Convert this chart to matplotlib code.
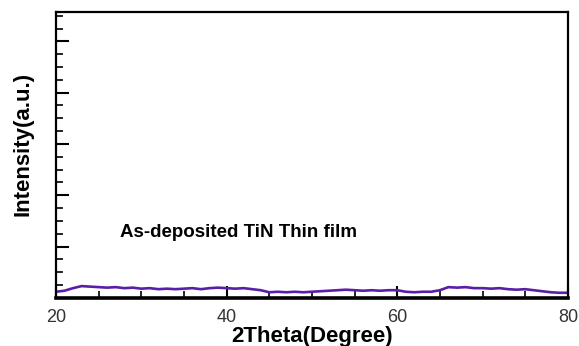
import numpy as np
import matplotlib.pyplot as plt
from matplotlib.ticker import MultipleLocator

plt.rcParams['font.family'] = ['Liberation Sans', 'DejaVu Sans']

# XRD scan of the as-deposited film
two_theta = np.arange(20, 81, 1)
intensity = [0.12, 0.14, 0.19, 0.23, 0.22, 0.21, 0.20, 0.21, 0.19, 0.20,
             0.18, 0.19, 0.17, 0.18, 0.17, 0.18, 0.19, 0.17, 0.19, 0.20,
             0.19, 0.18, 0.19, 0.17, 0.15, 0.11, 0.12, 0.11, 0.12, 0.11,
             0.12, 0.13, 0.14, 0.15, 0.16, 0.15, 0.14, 0.15, 0.14, 0.15,
             0.15, 0.12, 0.11, 0.12, 0.12, 0.15, 0.21, 0.20, 0.21, 0.19,
             0.19, 0.18, 0.19, 0.17, 0.16, 0.17, 0.15, 0.13, 0.11, 0.10,
             0.10]
x_ticks = [20, 40, 60, 80]
sample_label = 'As-deposited TiN Thin film'

fig = plt.figure(figsize=(5.79, 3.46), dpi=100)
ax = fig.add_axes([0.0967, 0.139, 0.884, 0.826])

ax.plot(two_theta, intensity, color='#5a1fa6', lw=1.9)

ax.text(27.5, 1.27, sample_label, fontsize=13.5, fontweight='bold', va='center', ha='left')

ax.set_xlim(20, 80)
ax.set_ylim(0, 5.57)
ax.set_xticks(x_ticks)
ax.xaxis.set_minor_locator(MultipleLocator(5))
ax.yaxis.set_major_locator(MultipleLocator(1))
ax.yaxis.set_minor_locator(MultipleLocator(0.25))
ax.set_yticklabels([])

ax.tick_params(axis='both', which='major', direction='in', length=9, width=1.5,
               labelsize=13, labelcolor='#333333', pad=8)
ax.tick_params(axis='both', which='minor', direction='in', length=5, width=1.2)
ax.tick_params(axis='y', which='both', right=False)
ax.tick_params(axis='x', which='both', top=False)

for side in ['left', 'right', 'top']:
    ax.spines[side].set_linewidth(1.6)
ax.spines['bottom'].set_linewidth(2.6)

ax.set_xlabel('2Theta(Degree)', fontsize=16, fontweight='bold', labelpad=0)
ax.set_ylabel('Intensity(a.u.)', fontsize=16, fontweight='bold')
ax.yaxis.set_label_coords(-0.043, 0.54)

fig.savefig('out.png', dpi=100)
